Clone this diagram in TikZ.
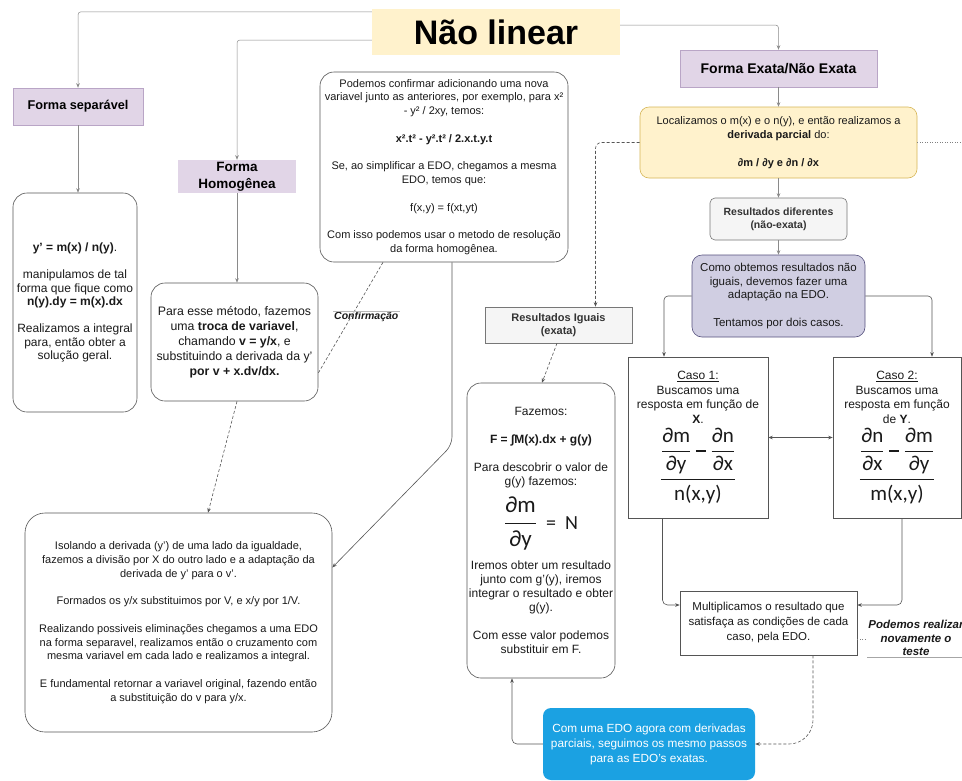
\documentclass[tikz,border=0pt]{standalone}
\usepackage{amsmath}
\usepackage{fontspec}
\setmainfont{Liberation Sans}
\newfontfamily\carl{Carlito}
\usetikzlibrary{arrows.meta}

\definecolor{titlefill}{HTML}{FFF2CC}
\definecolor{lilac}{HTML}{E1D5E7}
\definecolor{lilacline}{HTML}{B9A5C6}
\definecolor{yelfill}{HTML}{FFF2CC}
\definecolor{yelline}{HTML}{D6B656}
\definecolor{grayfill}{HTML}{F5F5F5}
\definecolor{grayline}{HTML}{777777}
\definecolor{lav}{HTML}{D0CEE2}
\definecolor{lavline}{HTML}{56517E}
\definecolor{sky}{HTML}{1BA1E2}
\definecolor{ink}{HTML}{1A1A1A}
\definecolor{wire}{HTML}{555555}
\definecolor{faint}{HTML}{8A8A8A}

\newcommand{\fs}[2]{\fontsize{#1}{#2}\selectfont}
\newcommand{\pd}[2]{\genfrac{}{}{0.9pt}{0}{\hbox{\carl ∂#1}}{\hbox{\carl ∂#2}}}
\newcommand{\thickminus}{\mathbin{\rule[4.5pt]{10pt}{2.2pt}}}

\begin{document}
\begin{tikzpicture}[x=1pt,y=-1pt,
  box/.style={draw=wire, line width=0.6pt, inner sep=0pt, align=center, text=ink},
  rbox/.style={box, rounded corners=14pt, fill=white},
  headbox/.style={inner sep=0pt, align=center, fill=lilac, draw=lilacline, line width=0.5pt, font=\bfseries},
  conn/.style={draw=wire, line width=0.6pt, -{Stealth[length=4.5pt,width=3.5pt]}},
  lightconn/.style={conn, draw=faint, line width=0.5pt},
  dconn/.style={conn, dash pattern=on 3pt off 2pt},
  dline/.style={draw=wire, line width=0.6pt, dash pattern=on 3pt off 2pt},
  body/.style={font=\fs{11}{13.8}}
]
\useasboundingbox (0,0) rectangle (962,780);
\fill[white] (0,0) rectangle (962,780);

% ---------- title and branch headers ----------
\node[fill=titlefill, minimum width=248, minimum height=46, inner sep=0pt,
      font=\fs{34}{40}\bfseries] (title) at (496,32) {Não linear};

\node[headbox, minimum width=130, minimum height=37, font=\fs{12.7}{15}\bfseries]
  (sepT) at (78,106.5) {Forma separável};
\node[headbox, draw=none, minimum width=118, minimum height=33, font=\fs{13.5}{17}\bfseries]
  (homT) at (237,176.5) {Forma\\Homogênea};
\node[headbox, minimum width=197, minimum height=37, font=\fs{14}{17}\bfseries]
  (exT) at (778.5,68.5) {Forma Exata/Não Exata};

% ---------- separable / homogeneous branch ----------
\node[rbox, minimum width=124, minimum height=219, font=\fs{12}{13.5}] (sepB) at (75,302.5)
  {\textbf{y' = m(x) / n(y)}.\\[\baselineskip]
   manipulamos de tal\\ forma que fique como\\ \textbf{n(y).dy = m(x).dx}\\[\baselineskip]
   Realizamos a integral\\ para, então obter a\\ solução geral.};

\node[rbox, minimum width=167, minimum height=118, font=\fs{12.3}{15}] (para) at (234.5,342)
  {Para esse método, fazemos\\ uma \textbf{troca de variavel},\\ chamando \textbf{v = y/x}, e\\
   substituindo a derivada da y'\\ \textbf{por v + x.dv/dx.}};

\node[rbox, body, minimum width=248, minimum height=190] (pod) at (444,167)
  {Podemos confirmar adicionando uma nova\\ variavel junto as anteriores, por exemplo, para x²\\
   - y² / 2xy, temos:\\[\baselineskip]
   \textbf{x².t² - y².t² / 2.x.t.y.t}\\[\baselineskip]
   Se, ao simplificar a EDO, chegamos a mesma\\ EDO, temos que:\\[\baselineskip]
   f(x,y) = f(xt,yt)\\[\baselineskip]
   Com isso podemos usar o metodo de resolução\\ da forma homogênea.};

\node[rbox, body, rounded corners=20pt, minimum width=307, minimum height=219] (iso) at (178.5,622.5)
  {Isolando a derivada (y') de uma lado da igualdade,\\
   fazemos a divisão por X do outro lado e a adaptação da\\ derivada de y' para o v'.\\[\baselineskip]
   Formados os y/x substituimos por V, e x/y por 1/V.\\[\baselineskip]
   Realizando possiveis eliminações chegamos a uma EDO\\
   na forma separavel, realizamos então o cruzamento com\\
   mesma variavel em cada lado e realizamos a integral.\\[\baselineskip]
   E fundamental retornar a variavel original, fazendo então\\ a substituição do v para y/x.};

\node[font=\fs{10.5}{12}\bfseries\itshape, text=ink, anchor=west, inner sep=1pt] (conf) at (333,317) {Confirmação};

% ---------- exact / non-exact branch ----------
\node[box, draw=yelline, fill=yelfill, rounded corners=9pt, minimum width=277, minimum height=71,
      font=\fs{11}{14}] (loc) at (778.5,142.5)
  {Localizamos o m(x) e o n(y), e então realizamos a\\ \textbf{derivada parcial} do:\\[\baselineskip]
   \textbf{∂m / ∂y e ∂n / ∂x}};

\node[box, draw=grayline, fill=grayfill, rounded corners=5pt, minimum width=137, minimum height=42,
      font=\fs{10.5}{13}\bfseries, text=black!80] (dif) at (778.5,219)
  {Resultados diferentes\\(não-exata)};

\node[box, draw=lavline, fill=lav, rounded corners=10pt, minimum width=173, minimum height=82,
      font=\fs{11.5}{13.8}] (como) at (778.5,296)
  {Como obtemos resultados não\\ iguais, devemos fazer uma\\ adaptação na EDO.\\[\baselineskip]
   Tentamos por dois casos.};

\node[box, draw=grayline, fill=grayfill, minimum width=147, minimum height=36,
      font=\fs{11}{13.5}\bfseries, text=black!80] (igu) at (558.5,325)
  {Resultados Iguais\\(exata)};

\node[rbox, minimum width=148, minimum height=295, font=\fs{12}{14}] (faz) at (541,530.5)
  {Fazemos:\\[\baselineskip]
   \textbf{F = ∫M(x).dx + g(y)}\\[\baselineskip]
   Para descobrir o valor de\\ g(y) fazemos:\\[8pt]
   {\fs{23}{26}$\genfrac{}{}{0.9pt}{0}{\hbox{\carl ∂m}}{\hbox{\carl ∂y}}$\hbox{\carl\fs{20}{24}\ \ =\ \ N}}\\[10pt]
   Iremos obter um resultado\\ junto com g'(y), iremos\\ integrar o resultado e obter\\ g(y).\\[\baselineskip]
   Com esse valor podemos\\ substituir em F.};

\node[box, fill=white, minimum width=140, minimum height=161, font=\fs{12}{14.5}] (c1) at (698,437.5)
  {\underline{Caso 1:}\\ Buscamos uma\\ resposta em função de\\ \textbf{X}.\\[4pt]
   {\fs{21}{24}$\genfrac{}{}{1.5pt}{0}{\pd{m}{y}\thickminus\pd{n}{x}}{\hbox{\carl n(x,y)}}$}};

\node[box, fill=white, minimum width=128, minimum height=161, font=\fs{12}{14.5}] (c2) at (897,437.5)
  {\underline{Caso 2:}\\ Buscamos uma\\ resposta em função\\ de \textbf{Y}.\\[4pt]
   {\fs{21}{24}$\genfrac{}{}{1.5pt}{0}{\pd{n}{x}\thickminus\pd{m}{y}}{\hbox{\carl m(x,y)}}$}};

\node[box, fill=white, minimum width=177, minimum height=64, font=\fs{11.5}{15}] (mul) at (768.5,623)
  {Multiplicamos o resultado que\\ satisfaça as condições de cada\\ caso, pela EDO.};

\node[font=\fs{11.5}{13.5}\bfseries\itshape, text=ink, align=center, minimum width=92, inner sep=1pt]
  (teste) at (916,638) {Podemos realizar\\ novamente o\\ teste};

\node[fill=sky, rounded corners=8pt, minimum width=212, minimum height=72, inner sep=0pt,
      align=center, text=white, font=\fs{11.8}{15}] (blue) at (649,744)
  {Com uma EDO agora com derivadas\\ parciais, seguimos os mesmo passos\\ para as EDO's exatas.};

% ---------- connectors ----------
\coordinate (podbend) at (452,445);
\coordinate (rimEdge) at (962,142.5);

\draw[lightconn, rounded corners=3pt] ([yshift=-3pt]title.north west) -| (sepT.north);
\draw[lightconn, rounded corners=3pt] ([yshift=-8pt]title.west) -| (homT.north);
\draw[lightconn, rounded corners=3pt] ([yshift=7pt]title.east) -| (exT.north);

\draw[lightconn] (sepT.south) -- (sepB.north -| sepT.south);
\draw[lightconn] (homT.south) -- (para.north -| homT.south);
\draw[dconn] ([xshift=2.5pt]para.south) -- ([xshift=29.5pt]iso.north);
\draw[dline] ([xshift=-61pt]pod.south) -- ([yshift=-31pt]para.east);
\draw[gray!55, line width=0.5pt] (conf.north west) -- (conf.north east);
\draw[conn, rounded corners=8pt] ([xshift=8pt]pod.south) -- (podbend) -- ([yshift=55pt]iso.east);

\draw[lightconn] (exT.south) -- (loc.north);
\draw[lightconn] (loc.south) -- (dif.north);
\draw[lightconn] (dif.south) -- (como.north);
\draw[dline, dash pattern=on 1pt off 1.5pt, draw=gray] (loc.east) -- (rimEdge);
\draw[dconn, rounded corners=6pt] (loc.west) -| ([xshift=37pt]igu.north);
\draw[dconn] ([xshift=-1.5pt]igu.south) -- ([xshift=1pt]faz.north);

\draw[conn, rounded corners=4pt] (como.west) -| ([xshift=-34pt]c1.north);
\draw[conn, rounded corners=4pt] (como.east) -| ([xshift=35pt]c2.north);
\draw[conn, {Stealth[length=4.5pt,width=3.5pt]}-{Stealth[length=4.5pt,width=3.5pt]}] (c1.east) -- (c2.west);
\draw[conn, rounded corners=5pt] ([xshift=-35.5pt]c1.south) |- ([yshift=18pt]mul.west);
\draw[conn, rounded corners=5pt] ([xshift=5pt]c2.south) |- ([yshift=18pt]mul.east);
\draw[dline, dash pattern=on 1pt off 1.5pt, draw=gray] ([yshift=-16pt]mul.east) -- ([yshift=-16pt]mul.east -| teste.west);
\draw[gray!70, line width=0.5pt] (teste.south west) -- (teste.south east);

\draw[dconn, rounded corners=24pt] ([xshift=44.5pt]mul.south) |- (blue.east);
\draw[conn, rounded corners=5pt] (blue.west) -| ([xshift=-29pt]faz.south);
\end{tikzpicture}
\end{document}
